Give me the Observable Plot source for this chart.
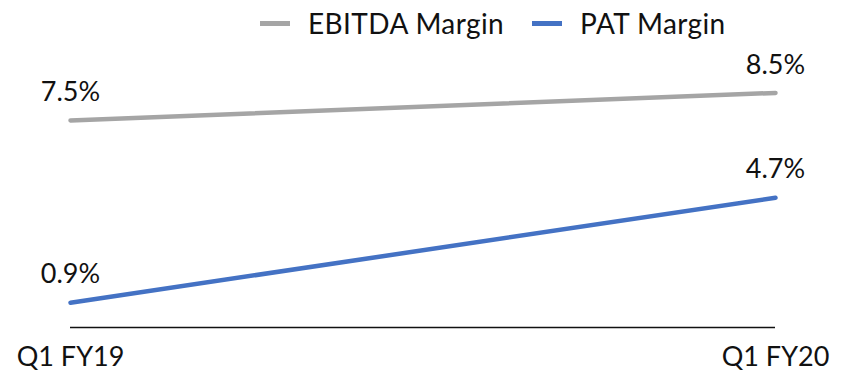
<!DOCTYPE html>
<html>
<head>
<meta charset="utf-8">
<script src="https://cdn.jsdelivr.net/npm/d3@7"></script>
<script src="https://cdn.jsdelivr.net/npm/@observablehq/plot@0.6"></script>
<style>
  html, body { margin: 0; padding: 0; background: #fff; }
  #wrap { position: relative; width: 846px; height: 374px; font-family: Lato, "Open Sans", sans-serif; }
  #legend { position: absolute; top: 5px; left: 260px; display: flex; gap: 28px; font-size: 28px; line-height: 36px; color: #111; letter-spacing: 0.4px; }
  .item { display: flex; align-items: center; gap: 18px; }
  .sw { width: 30px; height: 5px; display: inline-block; }
</style>
</head>
<body>
<div id="wrap"><div id="legend"></div></div>
<script>
const periods = ["Q1 FY19", "Q1 FY20"];
const seriesNames = ["EBITDA Margin", "PAT Margin"];
const ebitda = [7.5, 8.5];
const pat = [0.9, 4.7];
const colors = ["#A5A5A5", "#4472C4"];

const data = [];
periods.forEach((p, i) => {
  data.push({period: p, series: seriesNames[0], value: ebitda[i]});
  data.push({period: p, series: seriesNames[1], value: pat[i]});
});

const chart = Plot.plot({
  width: 846,
  height: 374,
  marginLeft: 70,
  marginRight: 71,
  marginTop: 51,
  marginBottom: 47,
  style: {fontFamily: "Lato, 'Open Sans', sans-serif", fontSize: "27px", color: "#111", background: "transparent"},
  x: {type: "point", domain: periods, padding: 0, label: null},
  y: {domain: [0, 10], axis: null},
  color: {domain: seriesNames, range: colors},
  marks: [
    Plot.ruleY([0], {stroke: "#111", strokeWidth: 1.3}),
    Plot.axisX({tickSize: 0, tickPadding: 19, fontSize: 27, label: null}),
    Plot.line(data, {x: "period", y: "value", z: "series", stroke: "series", strokeWidth: 4.5}),
    Plot.text(data, {x: "period", y: "value", text: d => d.value.toFixed(1) + "%", dy: -28, fontSize: 27, fill: "#111"})
  ]
});
document.getElementById("wrap").appendChild(chart);

const legend = document.getElementById("legend");
seriesNames.forEach((s, i) => {
  const it = document.createElement("div");
  it.className = "item";
  it.innerHTML = `<span class="sw" style="background:${colors[i]}"></span><span>${s}</span>`;
  legend.appendChild(it);
});
</script>
</body>
</html>
